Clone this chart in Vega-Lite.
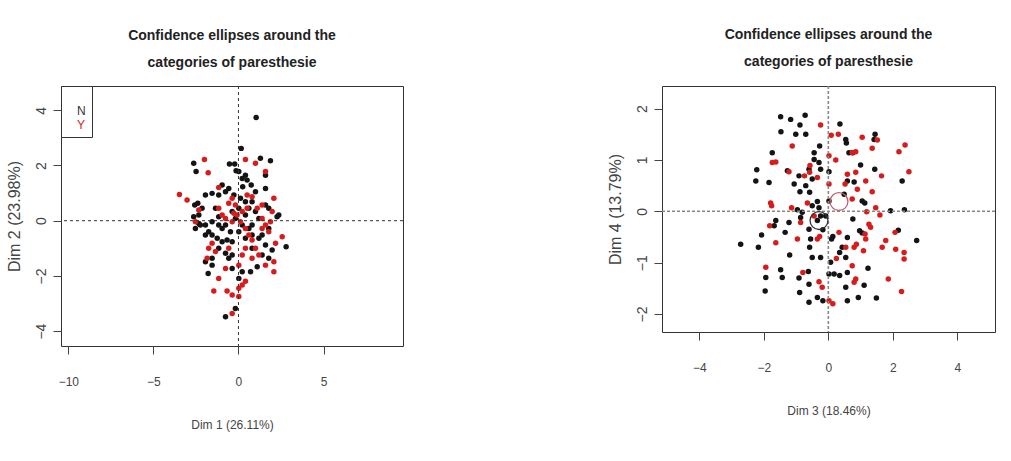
{
  "$schema": "https://vega.github.io/schema/vega-lite/v6.json",
  "background": "white",
  "padding": {"left": 5, "top": 27, "right": 5, "bottom": 5},
  "spacing": 202,
  "datasets": {
    "left": [
      {"x":1.04,"y":3.74,"g":"N"},{"x":0.16,"y":2.62,"g":"N"},{"x":-2.63,"y":2.08,"g":"N"},{"x":-2.49,"y":1.78,"g":"N"},{"x":-0.53,"y":2.05,"g":"N"},{"x":-0.22,"y":2.05,"g":"N"},{"x":-0.14,"y":1.81,"g":"N"},{"x":1.29,"y":2.26,"g":"N"},{"x":1.88,"y":2.17,"g":"N"},{"x":1.59,"y":1.65,"g":"N"},{"x":0.41,"y":1.65,"g":"N"},{"x":0.02,"y":1.78,"g":"N"},{"x":0.51,"y":1.47,"g":"N"},{"x":0.22,"y":1.53,"g":"N"},{"x":0.75,"y":1.29,"g":"N"},{"x":0.25,"y":1.23,"g":"N"},{"x":1.0,"y":1.05,"g":"N"},{"x":1.59,"y":1.17,"g":"N"},{"x":-0.96,"y":1.29,"g":"N"},{"x":-0.57,"y":1.17,"g":"N"},{"x":-0.76,"y":1.05,"g":"N"},{"x":-1.16,"y":0.93,"g":"N"},{"x":-1.94,"y":0.93,"g":"N"},{"x":-1.55,"y":0.99,"g":"N"},{"x":-2.39,"y":0.63,"g":"N"},{"x":-2.57,"y":0.57,"g":"N"},{"x":-2.14,"y":0.45,"g":"N"},{"x":-2.33,"y":0.21,"g":"N"},{"x":-2.63,"y":0.14,"g":"N"},{"x":-2.53,"y":-0.28,"g":"N"},{"x":-2.33,"y":-0.10,"g":"N"},{"x":-1.94,"y":-0.16,"g":"N"},{"x":-1.75,"y":-0.40,"g":"N"},{"x":-1.55,"y":-0.52,"g":"N"},{"x":-1.16,"y":-0.16,"g":"N"},{"x":-0.96,"y":-0.28,"g":"N"},{"x":-0.76,"y":-0.16,"g":"N"},{"x":-0.67,"y":-0.70,"g":"N"},{"x":-0.37,"y":-0.76,"g":"N"},{"x":-1.16,"y":-1.00,"g":"N"},{"x":-0.76,"y":-1.18,"g":"N"},{"x":-0.57,"y":-1.36,"g":"N"},{"x":-1.55,"y":-1.36,"g":"N"},{"x":-1.94,"y":-1.49,"g":"N"},{"x":-1.78,"y":-1.91,"g":"N"},{"x":-0.37,"y":-1.73,"g":"N"},{"x":0.02,"y":-2.09,"g":"N"},{"x":0.22,"y":-1.85,"g":"N"},{"x":0.80,"y":-1.00,"g":"N"},{"x":1.20,"y":-0.64,"g":"N"},{"x":1.39,"y":-0.52,"g":"N"},{"x":1.59,"y":-0.88,"g":"N"},{"x":1.78,"y":-0.28,"g":"N"},{"x":2.27,"y":0.14,"g":"N"},{"x":2.37,"y":0.21,"g":"N"},{"x":2.80,"y":-0.94,"g":"N"},{"x":1.98,"y":-1.06,"g":"N"},{"x":1.78,"y":-1.36,"g":"N"},{"x":1.10,"y":-1.67,"g":"N"},{"x":0.71,"y":-1.85,"g":"N"},{"x":-0.18,"y":-3.18,"g":"N"},{"x":-0.76,"y":-3.48,"g":"N"},{"x":0.61,"y":0.45,"g":"N"},{"x":0.41,"y":0.69,"g":"N"},{"x":0.02,"y":0.45,"g":"N"},{"x":-0.37,"y":0.33,"g":"N"},{"x":-0.18,"y":0.08,"g":"N"},{"x":0.22,"y":-0.16,"g":"N"},{"x":0.61,"y":-0.28,"g":"N"},{"x":0.80,"y":-0.16,"g":"N"},{"x":-1.35,"y":0.45,"g":"N"},{"x":-1.16,"y":0.14,"g":"N"},{"x":-1.55,"y":-0.04,"g":"N"},{"x":-0.27,"y":0.93,"g":"N"},{"x":0.12,"y":0.81,"g":"N"},{"x":1.0,"y":0.33,"g":"N"},{"x":1.20,"y":0.08,"g":"N"},{"x":0.41,"y":0.21,"g":"N"},{"x":-0.47,"y":-0.40,"g":"N"},{"x":-1.25,"y":-0.64,"g":"N"},{"x":-0.96,"y":-0.76,"g":"N"},{"x":-0.37,"y":-1.24,"g":"N"},{"x":0.41,"y":-0.64,"g":"N"},{"x":0.80,"y":-0.52,"g":"N"},{"x":1.39,"y":-1.24,"g":"N"},{"x":-1.55,"y":-1.61,"g":"N"},{"x":-2.24,"y":-0.16,"g":"N"},{"x":-1.94,"y":-0.52,"g":"N"},{"x":0.02,"y":-0.40,"g":"N"},{"x":1.59,"y":0.57,"g":"N"},{"x":1.78,"y":0.45,"g":"N"},{"x":0.80,"y":0.69,"g":"N"},
      {"x":-2.0,"y":2.22,"g":"Y"},{"x":-1.78,"y":1.74,"g":"Y"},{"x":0.41,"y":2.22,"g":"Y"},{"x":1.0,"y":2.08,"g":"Y"},{"x":1.59,"y":1.78,"g":"Y"},{"x":-3.47,"y":0.95,"g":"Y"},{"x":-3.02,"y":0.75,"g":"Y"},{"x":-1.16,"y":1.20,"g":"Y"},{"x":-0.37,"y":0.81,"g":"Y"},{"x":-0.57,"y":0.63,"g":"Y"},{"x":0.51,"y":0.93,"g":"Y"},{"x":0.80,"y":0.87,"g":"Y"},{"x":2.08,"y":0.81,"g":"Y"},{"x":1.39,"y":0.57,"g":"Y"},{"x":1.98,"y":0.33,"g":"Y"},{"x":-0.27,"y":0.27,"g":"Y"},{"x":-0.08,"y":0.21,"g":"Y"},{"x":0.12,"y":-0.04,"g":"Y"},{"x":0.41,"y":-0.28,"g":"Y"},{"x":0.80,"y":-0.70,"g":"Y"},{"x":1.39,"y":0.08,"g":"Y"},{"x":1.59,"y":-0.16,"g":"Y"},{"x":1.78,"y":-0.40,"g":"Y"},{"x":2.57,"y":-0.58,"g":"Y"},{"x":2.18,"y":-0.82,"g":"Y"},{"x":2.08,"y":-1.49,"g":"Y"},{"x":2.08,"y":-1.85,"g":"Y"},{"x":1.59,"y":-1.61,"g":"Y"},{"x":1.20,"y":-1.24,"g":"Y"},{"x":1.0,"y":-1.00,"g":"Y"},{"x":0.41,"y":-1.00,"g":"Y"},{"x":0.22,"y":-1.24,"g":"Y"},{"x":0.02,"y":-1.61,"g":"Y"},{"x":0.22,"y":-2.33,"g":"Y"},{"x":0.02,"y":-2.45,"g":"Y"},{"x":0.02,"y":-2.75,"g":"Y"},{"x":0.41,"y":-2.19,"g":"Y"},{"x":-0.37,"y":-2.69,"g":"Y"},{"x":-1.16,"y":-2.09,"g":"Y"},{"x":-1.45,"y":-2.55,"g":"Y"},{"x":-0.67,"y":-2.55,"g":"Y"},{"x":-0.37,"y":-3.36,"g":"Y"},{"x":-1.55,"y":-0.82,"g":"Y"},{"x":-1.75,"y":-1.00,"g":"Y"},{"x":-1.84,"y":-1.36,"g":"Y"},{"x":-1.16,"y":0.45,"g":"Y"},{"x":-0.96,"y":0.21,"g":"Y"},{"x":-0.76,"y":0.08,"g":"Y"},{"x":-2.33,"y":0.39,"g":"Y"},{"x":-2.53,"y":-0.04,"g":"Y"},{"x":-0.18,"y":0.57,"g":"Y"},{"x":0.22,"y":0.33,"g":"Y"},{"x":0.51,"y":0.45,"g":"Y"},{"x":-0.37,"y":-0.04,"g":"Y"},{"x":0.61,"y":-0.52,"g":"Y"},{"x":-0.57,"y":-1.00,"g":"Y"},{"x":-0.76,"y":-1.73,"g":"Y"},{"x":0.80,"y":-1.36,"g":"Y"},{"x":1.39,"y":-0.28,"g":"Y"},{"x":1.10,"y":0.45,"g":"Y"},{"x":1.88,"y":-0.04,"g":"Y"},{"x":-1.35,"y":-1.12,"g":"Y"}
    ],
    "right": [
      {"x":-1.48,"y":1.84,"g":"N"},{"x":-1.17,"y":1.79,"g":"N"},{"x":-0.72,"y":1.87,"g":"N"},{"x":-0.88,"y":1.68,"g":"N"},{"x":-1.47,"y":1.55,"g":"N"},{"x":-1.01,"y":1.50,"g":"N"},{"x":-0.70,"y":1.50,"g":"N"},{"x":0.36,"y":1.70,"g":"N"},{"x":0.54,"y":1.40,"g":"N"},{"x":0.56,"y":1.33,"g":"N"},{"x":1.45,"y":1.50,"g":"N"},{"x":1.42,"y":1.40,"g":"N"},{"x":-0.27,"y":1.27,"g":"N"},{"x":-0.44,"y":1.14,"g":"N"},{"x":-1.74,"y":1.14,"g":"N"},{"x":0.64,"y":1.14,"g":"N"},{"x":0.76,"y":1.14,"g":"N"},{"x":-2.22,"y":0.81,"g":"N"},{"x":-2.25,"y":0.59,"g":"N"},{"x":-1.84,"y":0.56,"g":"N"},{"x":-1.27,"y":0.79,"g":"N"},{"x":-1.06,"y":0.53,"g":"N"},{"x":-0.91,"y":0.69,"g":"N"},{"x":-0.29,"y":0.95,"g":"N"},{"x":-0.24,"y":0.82,"g":"N"},{"x":0.02,"y":0.77,"g":"N"},{"x":-0.44,"y":1.01,"g":"N"},{"x":-0.60,"y":0.82,"g":"N"},{"x":-0.50,"y":0.63,"g":"N"},{"x":-0.70,"y":0.50,"g":"N"},{"x":-0.88,"y":0.38,"g":"N"},{"x":-0.58,"y":0.37,"g":"N"},{"x":-0.34,"y":0.19,"g":"N"},{"x":-0.50,"y":0.11,"g":"N"},{"x":-0.96,"y":0.03,"g":"N"},{"x":-0.81,"y":-0.02,"g":"N"},{"x":-0.29,"y":0.07,"g":"N"},{"x":-0.24,"y":-0.09,"g":"N"},{"x":0.02,"y":0.20,"g":"N"},{"x":0.49,"y":0.33,"g":"N"},{"x":0.59,"y":0.59,"g":"N"},{"x":0.80,"y":0.57,"g":"N"},{"x":1.00,"y":0.90,"g":"N"},{"x":1.44,"y":0.82,"g":"N"},{"x":1.05,"y":0.20,"g":"N"},{"x":1.13,"y":0.16,"g":"N"},{"x":0.76,"y":-0.15,"g":"N"},{"x":1.93,"y":0.01,"g":"N"},{"x":2.36,"y":0.03,"g":"N"},{"x":2.29,"y":0.59,"g":"N"},{"x":2.74,"y":-0.57,"g":"N"},{"x":2.17,"y":-0.37,"g":"N"},{"x":-2.72,"y":-0.64,"g":"N"},{"x":-2.07,"y":-0.46,"g":"N"},{"x":-2.17,"y":-0.70,"g":"N"},{"x":-1.68,"y":-0.28,"g":"N"},{"x":-1.63,"y":-0.18,"g":"N"},{"x":-1.34,"y":-0.41,"g":"N"},{"x":-1.22,"y":-0.22,"g":"N"},{"x":-0.86,"y":-0.12,"g":"N"},{"x":-0.60,"y":-0.35,"g":"N"},{"x":-0.58,"y":-0.70,"g":"N"},{"x":-0.50,"y":-0.90,"g":"N"},{"x":-0.55,"y":-0.54,"g":"N"},{"x":-0.24,"y":-0.90,"g":"N"},{"x":-0.17,"y":-0.36,"g":"N"},{"x":0.10,"y":-0.54,"g":"N"},{"x":0.14,"y":-0.49,"g":"N"},{"x":0.35,"y":-0.80,"g":"N"},{"x":0.59,"y":-0.51,"g":"N"},{"x":0.43,"y":-0.70,"g":"N"},{"x":0.54,"y":-0.90,"g":"N"},{"x":0.97,"y":-0.38,"g":"N"},{"x":1.05,"y":-0.42,"g":"N"},{"x":-1.20,"y":-0.85,"g":"N"},{"x":-1.48,"y":-1.14,"g":"N"},{"x":-1.43,"y":-1.29,"g":"N"},{"x":-1.94,"y":-1.29,"g":"N"},{"x":-1.96,"y":-1.55,"g":"N"},{"x":-0.91,"y":-1.30,"g":"N"},{"x":-0.89,"y":-1.58,"g":"N"},{"x":-0.62,"y":-1.17,"g":"N"},{"x":-0.60,"y":-1.42,"g":"N"},{"x":-0.60,"y":-1.77,"g":"N"},{"x":-0.34,"y":-1.68,"g":"N"},{"x":-0.17,"y":-1.74,"g":"N"},{"x":0.02,"y":-1.22,"g":"N"},{"x":0.07,"y":-0.99,"g":"N"},{"x":0.18,"y":-1.22,"g":"N"},{"x":0.35,"y":-1.25,"g":"N"},{"x":0.59,"y":-1.19,"g":"N"},{"x":0.54,"y":-1.48,"g":"N"},{"x":0.59,"y":-1.74,"g":"N"},{"x":0.93,"y":-1.68,"g":"N"},{"x":1.11,"y":-1.44,"g":"N"},{"x":1.23,"y":-1.11,"g":"N"},{"x":1.49,"y":-1.69,"g":"N"},{"x":-0.08,"y":-0.09,"g":"N"},{"x":-0.34,"y":-0.18,"g":"N"},
      {"x":-0.24,"y":1.68,"g":"Y"},{"x":0.09,"y":1.48,"g":"Y"},{"x":0.31,"y":1.50,"g":"Y"},{"x":1.05,"y":1.44,"g":"Y"},{"x":1.52,"y":1.39,"g":"Y"},{"x":1.36,"y":1.23,"g":"Y"},{"x":-1.12,"y":1.27,"g":"Y"},{"x":-1.63,"y":0.96,"g":"Y"},{"x":-1.74,"y":0.95,"g":"Y"},{"x":-1.22,"y":0.77,"g":"Y"},{"x":-0.57,"y":0.89,"g":"Y"},{"x":-0.58,"y":0.76,"g":"Y"},{"x":-0.74,"y":0.69,"g":"Y"},{"x":-0.34,"y":0.66,"g":"Y"},{"x":0.02,"y":1.08,"g":"Y"},{"x":0.23,"y":1.00,"g":"Y"},{"x":0.02,"y":0.53,"g":"Y"},{"x":0.59,"y":0.72,"g":"Y"},{"x":0.74,"y":1.14,"g":"Y"},{"x":0.85,"y":1.16,"g":"Y"},{"x":0.85,"y":0.76,"g":"Y"},{"x":0.90,"y":0.43,"g":"Y"},{"x":1.16,"y":0.59,"g":"Y"},{"x":1.36,"y":0.38,"g":"Y"},{"x":1.65,"y":0.69,"g":"Y"},{"x":2.19,"y":1.16,"g":"Y"},{"x":2.38,"y":1.29,"g":"Y"},{"x":2.50,"y":0.77,"g":"Y"},{"x":1.19,"y":-0.01,"g":"Y"},{"x":1.47,"y":0.07,"g":"Y"},{"x":1.60,"y":-0.07,"g":"Y"},{"x":0.74,"y":0.24,"g":"Y"},{"x":0.52,"y":0.53,"g":"Y"},{"x":-1.79,"y":0.16,"g":"Y"},{"x":-1.76,"y":0.11,"g":"Y"},{"x":-1.82,"y":-0.28,"g":"Y"},{"x":-1.63,"y":-0.61,"g":"Y"},{"x":-1.14,"y":0.07,"g":"Y"},{"x":-0.86,"y":-0.22,"g":"Y"},{"x":-0.65,"y":0.16,"g":"Y"},{"x":-0.44,"y":-0.09,"g":"Y"},{"x":-0.34,"y":-0.54,"g":"Y"},{"x":-0.27,"y":-0.49,"g":"Y"},{"x":0.33,"y":-0.41,"g":"Y"},{"x":0.87,"y":-0.64,"g":"Y"},{"x":1.26,"y":-0.25,"g":"Y"},{"x":1.31,"y":-0.31,"g":"Y"},{"x":1.14,"y":-0.44,"g":"Y"},{"x":1.16,"y":-0.54,"g":"Y"},{"x":1.09,"y":-0.77,"g":"Y"},{"x":1.67,"y":-0.70,"g":"Y"},{"x":1.78,"y":-0.57,"g":"Y"},{"x":2.09,"y":-0.74,"g":"Y"},{"x":2.07,"y":-0.41,"g":"Y"},{"x":2.35,"y":-0.80,"g":"Y"},{"x":2.35,"y":-0.93,"g":"Y"},{"x":1.86,"y":-1.32,"g":"Y"},{"x":2.27,"y":-1.56,"g":"Y"},{"x":0.80,"y":-0.70,"g":"Y"},{"x":0.74,"y":-1.06,"g":"Y"},{"x":0.80,"y":-1.38,"g":"Y"},{"x":0.85,"y":-1.32,"g":"Y"},{"x":0.54,"y":-0.70,"g":"Y"},{"x":0.25,"y":-0.92,"g":"Y"},{"x":-1.94,"y":-1.09,"g":"Y"},{"x":-0.79,"y":-1.19,"g":"Y"},{"x":-0.29,"y":-1.37,"g":"Y"},{"x":-0.19,"y":-1.48,"g":"Y"},{"x":0.02,"y":-1.74,"g":"Y"},{"x":0.14,"y":-1.80,"g":"Y"},{"x":-0.96,"y":-0.54,"g":"Y"}
    ],
    "rightCentres": [
      {"x":-0.29,"y":-0.18,"g":"N"},{"x":0.33,"y":0.19,"g":"Y"}
    ]
  },
  "hconcat": [
    {
      "width": 342,
      "height": 260,
      "title": {"text": ["Confidence ellipses around the", "categories of paresthesie"], "offset": 16},
      "layer": [
        {
          "data": {"name": "left"},
          "mark": {"type": "circle", "size": 30, "opacity": 1},
          "encoding": {
            "x": {"field": "x", "type": "quantitative", "scale": {"domain": [-10.43, 9.67], "nice": false, "zero": false}, "axis": {"values": [-10, -5, 0, 5], "title": "Dim 1 (26.11%)"}},
            "y": {"field": "y", "type": "quantitative", "scale": {"domain": [-4.54, 4.88], "nice": false, "zero": false}, "axis": {"values": [-4, -2, 0, 2, 4], "format": "d", "title": "Dim 2 (23.98%)"}},
            "color": {
              "field": "g", "type": "nominal",
              "scale": {"domain": ["N", "Y"], "range": ["#141414", "#d81c1c"]},
              "legend": {
                "orient": "top-left", "offset": 0, "title": " ", "titleFontSize": 10, "titlePadding": 3,
                "strokeColor": "#333", "fillColor": "white", "padding": 6,
                "symbolOpacity": 0, "symbolSize": 4, "labelFontSize": 12, "labelOffset": -2,
                "labelFont": "Liberation Sans, Arial",
                "encode": {"labels": {"update": {"fill": {"signal": "datum.value === 'Y' ? '#d81c1c' : '#333'"}}}}
              }
            }
          }
        },
        {
          "data": {"values": [{}]},
          "mark": {"type": "rule", "strokeDash": [3, 3], "color": "#333", "strokeWidth": 1},
          "encoding": {"x": {"datum": 0, "type": "quantitative"}}
        },
        {
          "data": {"values": [{}]},
          "mark": {"type": "rule", "strokeDash": [3, 3], "color": "#333", "strokeWidth": 1},
          "encoding": {"y": {"datum": 0, "type": "quantitative"}}
        }
      ]
    },
    {
      "width": 333,
      "height": 246,
      "title": {"text": ["Confidence ellipses around the", "categories of paresthesie"], "offset": 16},
      "layer": [
        {
          "data": {"name": "right"},
          "mark": {"type": "circle", "size": 30, "opacity": 1},
          "encoding": {
            "x": {"field": "x", "type": "quantitative", "scale": {"domain": [-5.16, 5.17], "nice": false, "zero": false}, "axis": {"values": [-4, -2, 0, 2, 4], "title": "Dim 3 (18.46%)"}},
            "y": {"field": "y", "type": "quantitative", "scale": {"domain": [-2.35, 2.44], "nice": false, "zero": false}, "axis": {"values": [-2, -1, 0, 1, 2], "format": "d", "title": "Dim 4 (13.79%)"}},
            "color": {
              "field": "g", "type": "nominal",
              "scale": {"domain": ["N", "Y"], "range": ["#141414", "#d81c1c"]},
              "legend": {
                "orient": "top-left", "offset": 0, "title": " ", "titleFontSize": 8, "titlePadding": 2,
                "strokeColor": "#333", "fillColor": "white", "padding": 6,
                "symbolOpacity": 0, "symbolSize": 4, "labelFontSize": 12, "labelOffset": -2,
                "labelFont": "Liberation Sans, Arial",
                "encode": {"labels": {"update": {"fill": {"signal": "datum.value === 'Y' ? '#c8303c' : '#555'"}}}}
              }
            }
          }
        },
        {
          "data": {"values": [{}]},
          "mark": {"type": "rule", "strokeDash": [3, 2], "color": "#888", "strokeWidth": 1.6},
          "encoding": {"x": {"datum": 0, "type": "quantitative"}}
        },
        {
          "data": {"values": [{}]},
          "mark": {"type": "rule", "strokeDash": [3, 2], "color": "#888", "strokeWidth": 1.6},
          "encoding": {"y": {"datum": 0, "type": "quantitative"}}
        },
        {
          "data": {"name": "rightCentres"},
          "mark": {"type": "point", "shape": "circle", "size": 320, "filled": false, "strokeWidth": 1.3, "opacity": 1},
          "encoding": {
            "x": {"field": "x", "type": "quantitative"},
            "y": {"field": "y", "type": "quantitative"},
            "stroke": {"field": "g", "type": "nominal", "scale": {"domain": ["N", "Y"], "range": ["#333333", "#c06070"]}, "legend": null}
          }
        }
      ]
    }
  ],
  "config": {
    "view": {"stroke": "#333", "strokeWidth": 1},
    "axis": {
      "grid": false, "domain": false, "tickColor": "#444", "tickSize": 8,
      "labelFont": "Liberation Sans, Arial", "labelFontSize": 12, "labelColor": "#444",
      "titleFont": "Liberation Sans, Arial", "titleFontSize": 12, "titleFontWeight": "normal", "titleColor": "#444"
    },
    "axisX": {"labelPadding": 22, "titlePadding": 32},
    "axisY": {"labelAngle": 270, "labelAlign": "center", "labelBaseline": "bottom", "labelPadding": 5, "labelFontSize": 14, "titleFontSize": 16, "titlePadding": 12},
    "title": {"font": "Liberation Sans, Arial", "fontSize": 14, "fontWeight": "bold", "lineHeight": 27, "color": "#222", "anchor": "middle"}
  }
}
